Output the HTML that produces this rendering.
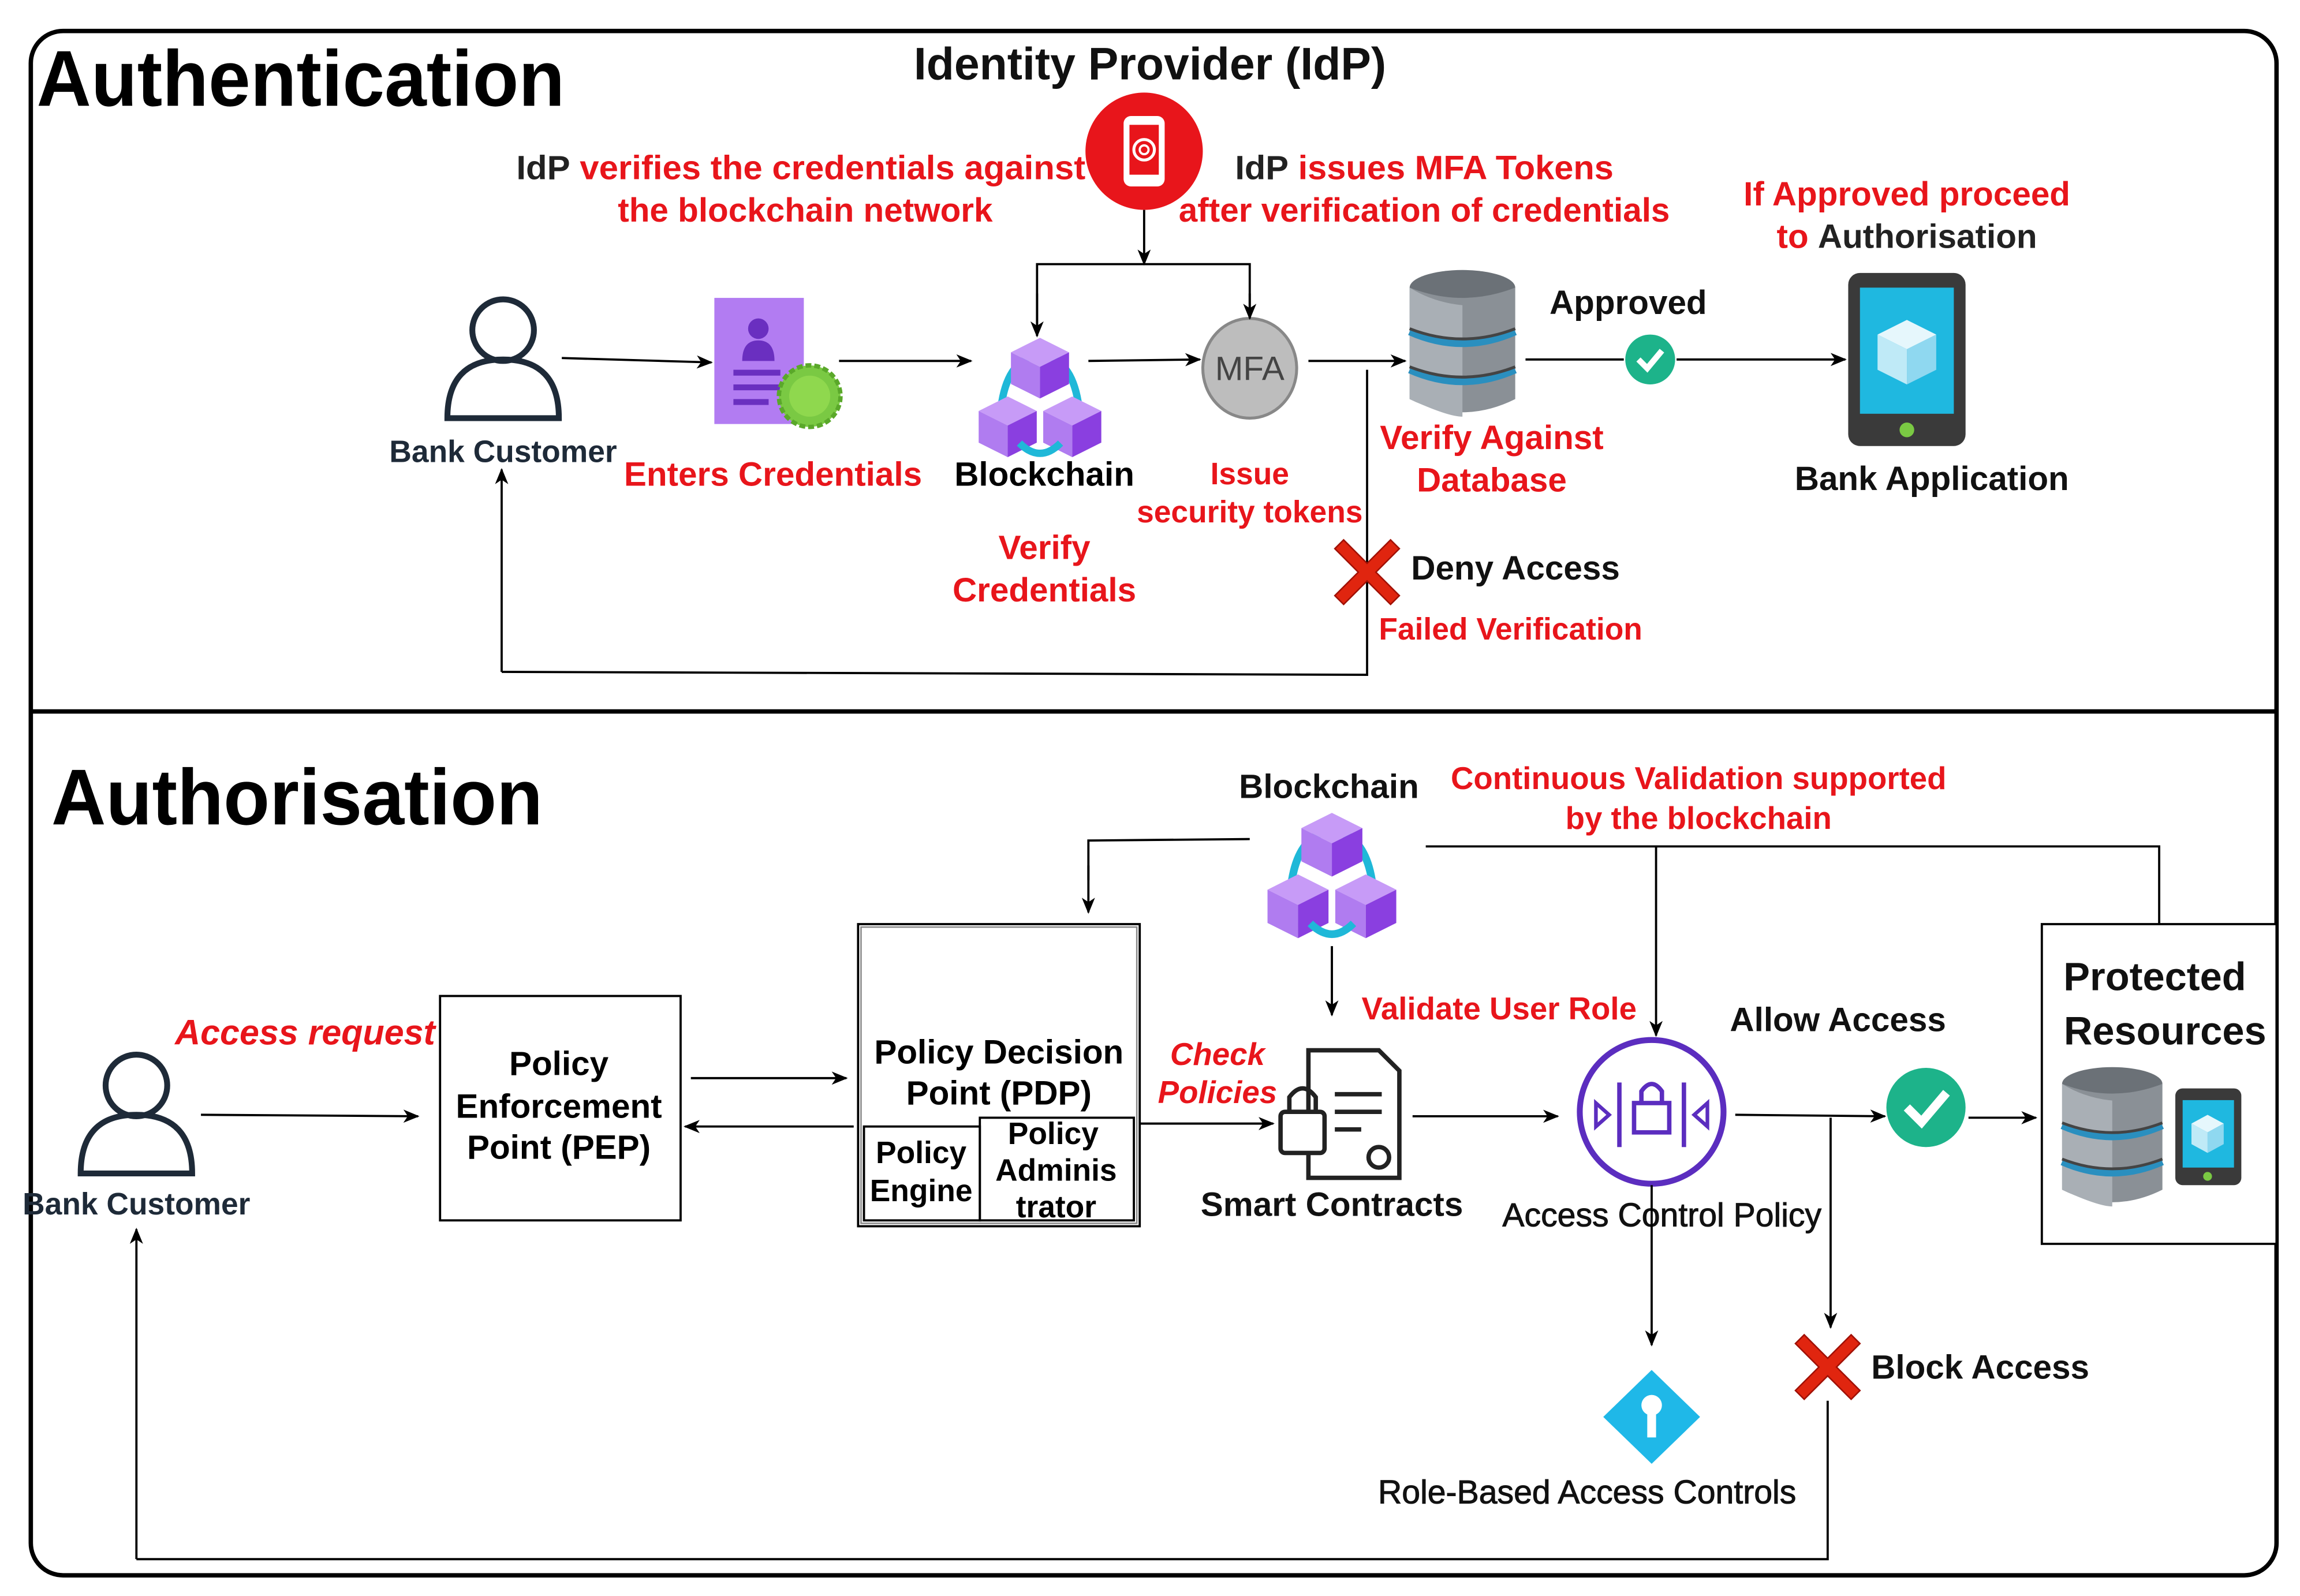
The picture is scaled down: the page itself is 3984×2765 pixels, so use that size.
<!DOCTYPE html>
<html><head><meta charset="utf-8"><style>
html,body{margin:0;padding:0;background:#fff;}
svg{display:block;}
text{font-family:"Liberation Sans",Arial,sans-serif;font-weight:bold;}
</style></head><body>
<svg width="3984" height="2765" viewBox="0 0 1568 1088" xmlns="http://www.w3.org/2000/svg">
<defs>
<marker id="a" markerWidth="11" markerHeight="11" refX="10" refY="5.5" orient="auto" markerUnits="userSpaceOnUse"><path d="M0,1 L11,5.5 L0,10 L3,5.5 z" fill="#000"/></marker>
<g id="cube">
<polygon points="0,-22 22,-11 0,0 -22,-11" fill="#c79bf7"/>
<polygon points="-22,-11 0,0 0,24 -22,13" fill="#b07cf0"/>
<polygon points="0,0 22,-11 22,13 0,24" fill="#8a3fe0"/>
</g>
<g id="chain">
<path d="M-26,2 Q-22,-22 -8,-28" stroke="#1fb8d8" stroke-width="5" fill="none"/>
<path d="M26,2 Q22,-22 8,-28" stroke="#1fb8d8" stroke-width="5" fill="none"/>
<use href="#cube" transform="translate(0,-22) scale(0.9)"/>
<use href="#cube" transform="translate(-22,18) scale(0.9)"/>
<use href="#cube" transform="translate(22,18) scale(0.9)"/>
<path d="M-14,30 Q0,44 14,30" stroke="#1fb8d8" stroke-width="5" fill="none"/>
</g>
<g id="person">
<circle cx="0" cy="-20" r="21" fill="none" stroke="#1e2a38" stroke-width="4"/>
<path d="M-38,40 Q-38,0 0,0 Q38,0 38,40 Z" fill="none" stroke="#1e2a38" stroke-width="4"/>
</g>
<g id="db">
<ellipse cx="0" cy="-38" rx="36" ry="12" fill="#6b7177"/>
<path d="M-36,-38 L-36,38 Q0,56 36,38 L36,-38 Q0,-24 -36,-38Z" fill="#8a9096"/>
<path d="M-36,-38 L-36,38 Q-10,50 0,50 L0,-26 Q-20,-28 -36,-38Z" fill="#a9afb5"/>
<path d="M-36,-8 Q0,8 36,-8" stroke="#2a8fbf" stroke-width="5" fill="none"/>
<path d="M-36,18 Q0,34 36,18" stroke="#2a8fbf" stroke-width="5" fill="none"/>
<path d="M-36,-10 Q0,4 36,-10" stroke="#444" stroke-width="2" fill="none"/>
<path d="M-36,16 Q0,30 36,16" stroke="#444" stroke-width="2" fill="none"/>
</g>
<g id="xm">
<path d="M-16,-20 L0,-4 L16,-20 L22,-14 L6,2 L22,18 L16,24 L0,8 L-16,24 L-22,18 L-6,2 L-22,-14Z" fill="#e0250f" stroke="#a01005" stroke-width="1"/>
</g>
</defs>

<rect x="21" y="21" width="1531" height="1053" rx="22" fill="none" stroke="#000" stroke-width="3"/>
<line x1="21" y1="485" x2="1552" y2="485" stroke="#000" stroke-width="3"/>

<!-- AUTHENTICATION -->
<text x="25" y="72" font-size="54" textLength="360" lengthAdjust="spacingAndGlyphs">Authentication</text>
<text x="784" y="54" font-size="31" text-anchor="middle" fill="#111">Identity Provider (IdP)</text>
<circle cx="780" cy="103" r="40" fill="#e8151b"/>
<rect x="766" y="79" width="28" height="48" rx="5" fill="#fff"/>
<rect x="770" y="85" width="20" height="34" fill="#e8151b"/>
<circle cx="780" cy="102" r="7" fill="none" stroke="#fff" stroke-width="2"/>
<circle cx="780" cy="102" r="3" fill="none" stroke="#fff" stroke-width="1.5"/>

<text x="352" y="122" font-size="23" fill="#e8151b" textLength="388" lengthAdjust="spacingAndGlyphs"><tspan fill="#222">IdP</tspan> verifies the credentials against</text>
<text x="549" y="151" font-size="23" fill="#e8151b" text-anchor="middle">the blockchain network</text>
<text x="842" y="122" font-size="23" fill="#e8151b" textLength="258" lengthAdjust="spacingAndGlyphs"><tspan fill="#222">IdP</tspan> issues MFA Tokens</text>
<text x="971" y="151" font-size="23" fill="#e8151b" text-anchor="middle">after verification of credentials</text>
<text x="1300" y="140" font-size="23" fill="#e8151b" text-anchor="middle">If Approved proceed</text>
<text x="1300" y="169" font-size="23" fill="#e8151b" text-anchor="middle">to <tspan fill="#222">Authorisation</tspan></text>

<use href="#person" transform="translate(343,245)"/>
<text x="343" y="315" font-size="21" fill="#1e2a38" text-anchor="middle">Bank Customer</text>
<line x1="383" y1="244" x2="485" y2="247" stroke="#000" stroke-width="1.5" marker-end="url(#a)"/>

<rect x="487" y="203" width="61" height="86" fill="#b27cf2"/>
<circle cx="517" cy="224" r="7" fill="#6a2fc0"/>
<path d="M506,246 Q506,232 517,232 Q528,232 528,246Z" fill="#6a2fc0"/>
<rect x="500" y="252" width="32" height="4" fill="#6a2fc0"/>
<rect x="500" y="262" width="32" height="4" fill="#6a2fc0"/>
<rect x="500" y="272" width="24" height="4" fill="#6a2fc0"/>
<circle cx="552" cy="270" r="21" fill="#7ac943" stroke="#5aa82a" stroke-width="3" stroke-dasharray="4 2"/>
<circle cx="552" cy="270" r="14" fill="#8fd84e"/>
<text x="527" y="331" font-size="23" fill="#e8151b" text-anchor="middle">Enters Credentials</text>
<line x1="572" y1="246" x2="662" y2="246" stroke="#000" stroke-width="1.5" marker-end="url(#a)"/>

<use href="#chain" transform="translate(709,272)"/>
<text x="712" y="331" font-size="23" fill="#000" text-anchor="middle">Blockchain</text>
<text x="712" y="381" font-size="23" fill="#e8151b" text-anchor="middle">Verify</text>
<text x="712" y="410" font-size="23" fill="#e8151b" text-anchor="middle">Credentials</text>
<line x1="742" y1="246" x2="818" y2="245" stroke="#000" stroke-width="1.5" marker-end="url(#a)"/>

<ellipse cx="852" cy="251" rx="32" ry="34" fill="#bdbdbd" stroke="#888" stroke-width="2"/>
<text x="852" y="259" font-size="23" fill="#444" text-anchor="middle" style="font-weight:normal">MFA</text>
<text x="852" y="330" font-size="21" fill="#e8151b" text-anchor="middle">Issue</text>
<text x="852" y="356" font-size="21" fill="#e8151b" text-anchor="middle">security tokens</text>

<line x1="780" y1="143" x2="780" y2="180" stroke="#000" stroke-width="1.5" marker-end="url(#a)"/>
<polyline points="707,228 707,180 852,180 852,216" fill="none" stroke="#000" stroke-width="1.5"/>
<line x1="707" y1="200" x2="707" y2="229" stroke="#000" stroke-width="1.5" marker-end="url(#a)"/>
<line x1="852" y1="200" x2="852" y2="217" stroke="#000" stroke-width="1.5" marker-end="url(#a)"/>

<line x1="892" y1="246" x2="958" y2="246" stroke="#000" stroke-width="1.5" marker-end="url(#a)"/>
<polyline points="932,252 932,460 342,458" fill="none" stroke="#000" stroke-width="1.5"/>
<line x1="342" y1="458" x2="342" y2="320" stroke="#000" stroke-width="1.5" marker-end="url(#a)"/>
<use href="#xm" transform="translate(932,388)"/>
<text x="962" y="395" font-size="23" fill="#111">Deny Access</text>
<text x="940" y="436" font-size="21" fill="#e8151b">Failed Verification</text>

<use href="#db" transform="translate(997,234)"/>
<text x="1017" y="306" font-size="23" fill="#e8151b" text-anchor="middle">Verify Against</text>
<text x="1017" y="335" font-size="23" fill="#e8151b" text-anchor="middle">Database</text>
<text x="1110" y="214" font-size="23" fill="#111" text-anchor="middle">Approved</text>
<line x1="1040" y1="245" x2="1107" y2="245" stroke="#000" stroke-width="1.5"/>
<circle cx="1125" cy="245" r="17" fill="#1db38a"/>
<path d="M1117,245 L1123,251 L1133,239" stroke="#fff" stroke-width="4" fill="none"/>
<line x1="1143" y1="245" x2="1258" y2="245" stroke="#000" stroke-width="1.5" marker-end="url(#a)"/>

<rect x="1260" y="186" width="80" height="118" rx="8" fill="#3a3a3a"/>
<rect x="1268" y="196" width="64" height="86" fill="#1fb8e0"/>
<polygon points="1300,218 1320,228 1300,238 1280,228" fill="#e6f7fc"/>
<polygon points="1280,228 1300,238 1300,262 1280,252" fill="#bfeaf7"/>
<polygon points="1300,238 1320,228 1320,252 1300,262" fill="#8fd8f0"/>
<circle cx="1300" cy="293" r="5" fill="#7ac943"/>
<text x="1317" y="334" font-size="23" fill="#111" text-anchor="middle">Bank Application</text>

<!-- AUTHORISATION -->
<text x="35" y="562" font-size="54" textLength="335" lengthAdjust="spacingAndGlyphs">Authorisation</text>
<text x="906" y="544" font-size="23" fill="#111" text-anchor="middle">Blockchain</text>
<text x="1158" y="538" font-size="21.5" fill="#e8151b" text-anchor="middle">Continuous Validation supported</text>
<text x="1158" y="565" font-size="21.5" fill="#e8151b" text-anchor="middle">by the blockchain</text>
<use href="#chain" transform="translate(908,598) scale(1.05)"/>
<polyline points="852,572 742,573 742,600" fill="none" stroke="#000" stroke-width="1.5"/>
<line x1="742" y1="590" x2="742" y2="622" stroke="#000" stroke-width="1.5" marker-end="url(#a)"/>
<polyline points="972,577 1472,577 1472,630" fill="none" stroke="#000" stroke-width="1.5"/>
<line x1="1129" y1="577" x2="1129" y2="706" stroke="#000" stroke-width="1.5" marker-end="url(#a)"/>
<line x1="908" y1="645" x2="908" y2="692" stroke="#000" stroke-width="1.5" marker-end="url(#a)"/>
<text x="1022" y="695" font-size="21.5" fill="#e8151b" text-anchor="middle">Validate User Role</text>

<use href="#person" transform="translate(93,760)"/>
<text x="93" y="828" font-size="21" fill="#1e2a38" text-anchor="middle">Bank Customer</text>
<text x="208" y="712" font-size="24" fill="#e8151b" text-anchor="middle" font-style="italic">Access request</text>
<line x1="137" y1="760" x2="285" y2="761" stroke="#000" stroke-width="1.5" marker-end="url(#a)"/>

<rect x="300" y="679" width="164" height="153" fill="#fff" stroke="#000" stroke-width="1.5"/>
<text x="381" y="733" font-size="23" fill="#000" text-anchor="middle">Policy</text>
<text x="381" y="762" font-size="23" fill="#000" text-anchor="middle">Enforcement</text>
<text x="381" y="790" font-size="23" fill="#000" text-anchor="middle">Point (PEP)</text>
<line x1="471" y1="735" x2="577" y2="735" stroke="#000" stroke-width="1.5" marker-end="url(#a)"/>
<line x1="582" y1="768" x2="467" y2="768" stroke="#000" stroke-width="1.5" marker-end="url(#a)"/>

<rect x="585" y="630" width="192" height="206" fill="#fff" stroke="#000" stroke-width="1.5"/>
<rect x="587" y="632" width="188" height="202" fill="none" stroke="#888" stroke-width="1"/>
<text x="681" y="725" font-size="23" fill="#000" text-anchor="middle">Policy Decision</text>
<text x="681" y="753" font-size="23" fill="#000" text-anchor="middle">Point (PDP)</text>
<rect x="589" y="768" width="79" height="64" fill="none" stroke="#000" stroke-width="1.5"/>
<rect x="668" y="762" width="105" height="70" fill="none" stroke="#000" stroke-width="1.5"/>
<text x="628" y="793" font-size="21" fill="#000" text-anchor="middle">Policy</text>
<text x="628" y="819" font-size="21" fill="#000" text-anchor="middle">Engine</text>
<text x="718" y="780" font-size="21" fill="#000" text-anchor="middle">Policy</text>
<text x="720" y="805" font-size="21" fill="#000" text-anchor="middle">Adminis</text>
<text x="720" y="830" font-size="21" fill="#000" text-anchor="middle">trator</text>

<text x="830" y="726" font-size="21.5" fill="#e8151b" text-anchor="middle" font-style="italic">Check</text>
<text x="830" y="752" font-size="21.5" fill="#e8151b" text-anchor="middle" font-style="italic">Policies</text>
<line x1="777" y1="766" x2="868" y2="766" stroke="#000" stroke-width="1.5" marker-end="url(#a)"/>

<path d="M892,716 L940,716 L954,730 L954,803 L892,803 Z" fill="#fff" stroke="#222" stroke-width="3"/>
<line x1="910" y1="746" x2="942" y2="746" stroke="#222" stroke-width="3"/>
<line x1="910" y1="758" x2="942" y2="758" stroke="#222" stroke-width="3"/>
<line x1="910" y1="770" x2="928" y2="770" stroke="#222" stroke-width="3"/>
<circle cx="940" cy="789" r="7" fill="#fff" stroke="#222" stroke-width="3"/>
<rect x="873" y="758" width="30" height="28" rx="3" fill="#fff" stroke="#222" stroke-width="3"/>
<path d="M879,758 L879,748 Q888,736 897,748 L897,758" fill="none" stroke="#222" stroke-width="3"/>
<text x="908" y="829" font-size="23" fill="#111" text-anchor="middle">Smart Contracts</text>
<line x1="963" y1="761" x2="1062" y2="761" stroke="#000" stroke-width="1.5" marker-end="url(#a)"/>

<circle cx="1126" cy="758" r="49" fill="#fff" stroke="#5b2dbf" stroke-width="4"/>
<rect x="1114" y="752" width="24" height="20" fill="none" stroke="#5b2dbf" stroke-width="3"/>
<path d="M1119,752 L1119,744 Q1126,734 1133,744 L1133,752" fill="none" stroke="#5b2dbf" stroke-width="3"/>
<line x1="1104" y1="738" x2="1104" y2="782" stroke="#5b2dbf" stroke-width="3"/>
<line x1="1148" y1="738" x2="1148" y2="782" stroke="#5b2dbf" stroke-width="3"/>
<polygon points="1088,752 1097,760 1088,768" fill="none" stroke="#5b2dbf" stroke-width="2.5"/>
<polygon points="1164,752 1155,760 1164,768" fill="none" stroke="#5b2dbf" stroke-width="2.5"/>
<text x="1133" y="836" font-size="22.5" fill="#111" text-anchor="middle" style="font-weight:normal" stroke="#111" stroke-width="0.4">Access Control Policy</text>
<text x="1253" y="703" font-size="23" fill="#111" text-anchor="middle">Allow Access</text>
<line x1="1183" y1="760" x2="1285" y2="761" stroke="#000" stroke-width="1.5" marker-end="url(#a)"/>
<circle cx="1313" cy="755" r="27" fill="#1db38a"/>
<path d="M1300,755 L1310,765 L1327,745" stroke="#fff" stroke-width="6" fill="none"/>
<line x1="1342" y1="762" x2="1388" y2="762" stroke="#000" stroke-width="1.5" marker-end="url(#a)"/>
<line x1="1248" y1="762" x2="1248" y2="905" stroke="#000" stroke-width="1.5" marker-end="url(#a)"/>
<use href="#xm" transform="translate(1246,930)"/>
<text x="1350" y="940" font-size="23" fill="#111" text-anchor="middle">Block Access</text>
<line x1="1126" y1="808" x2="1126" y2="917" stroke="#000" stroke-width="1.5" marker-end="url(#a)"/>
<polygon points="1126,934 1159,966 1126,998 1093,966" fill="#1fb8e8"/>
<circle cx="1126" cy="958" r="7" fill="#fff"/>
<rect x="1123" y="962" width="6" height="18" fill="#fff"/>
<text x="1082" y="1025" font-size="22.5" fill="#111" text-anchor="middle" style="font-weight:normal" stroke="#111" stroke-width="0.4">Role-Based Access Controls</text>
<polyline points="1246,955 1246,1063 93,1063" fill="none" stroke="#000" stroke-width="1.5"/>
<line x1="93" y1="1063" x2="93" y2="838" stroke="#000" stroke-width="1.5" marker-end="url(#a)"/>

<rect x="1392" y="630" width="160" height="218" fill="#fff" stroke="#000" stroke-width="1.5"/>
<text x="1469" y="675" font-size="27" fill="#111" text-anchor="middle">Protected</text>
<text x="1476" y="712" font-size="27" fill="#111" text-anchor="middle">Resources</text>
<use href="#db" transform="translate(1440,775) scale(0.95)"/>
<rect x="1483" y="742" width="45" height="66" rx="5" fill="#3a3a3a"/>
<rect x="1488" y="750" width="35" height="46" fill="#1fb8e0"/>
<polygon points="1505,760 1516,766 1505,772 1494,766" fill="#e6f7fc"/>
<polygon points="1494,766 1505,772 1505,786 1494,780" fill="#bfeaf7"/>
<polygon points="1505,772 1516,766 1516,780 1505,786" fill="#8fd8f0"/>
<circle cx="1505" cy="802" r="3" fill="#7ac943"/>
</svg>
</body></html>
